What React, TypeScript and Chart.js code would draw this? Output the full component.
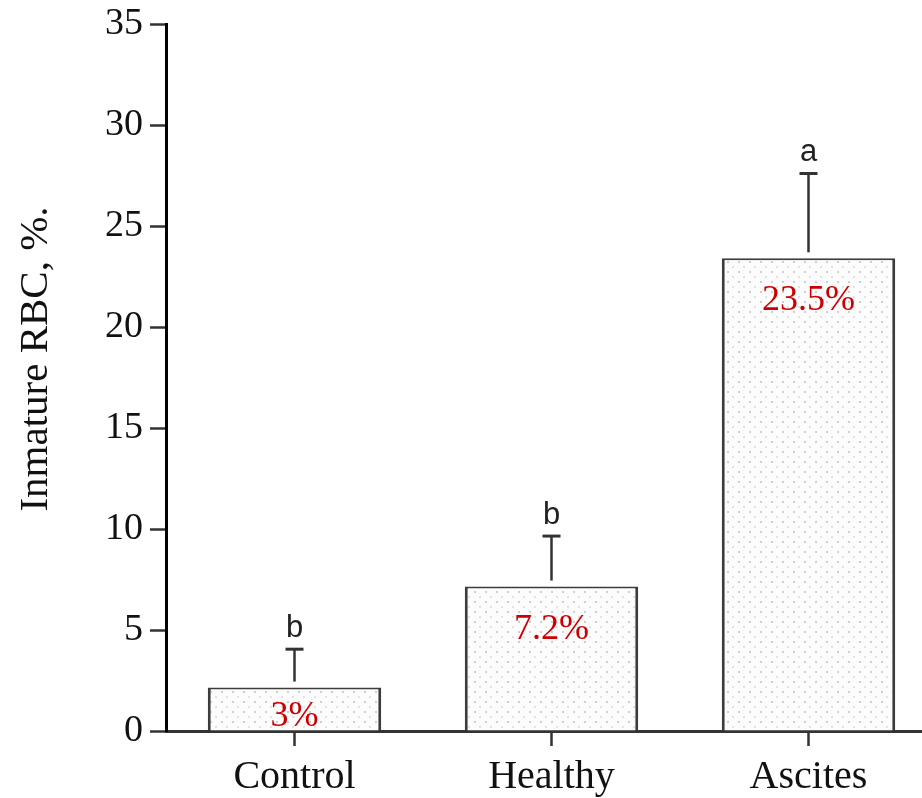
import React, { useEffect, useRef } from "react";
import { Chart, registerables } from "chart.js";

Chart.register(...registerables);

const categories = ["Control", "Healthy", "Ascites"];
const values = [2.15, 7.15, 23.4];
const errorTop = [4.05, 9.65, 27.6];
const valueLabels = ["3%", "7.2%", "23.5%"];
const groupLetters = ["b", "b", "a"];
const yMin = 0;
const yMax = 35;
const yStep = 5;
const yTitle = "Inmature RBC, %.";

function makePattern(): CanvasPattern | string {
  const c = document.createElement("canvas");
  c.width = 11;
  c.height = 10;
  const g = c.getContext("2d");
  if (!g) return "#f6f6f6";
  g.fillStyle = "#fcfcfc";
  g.fillRect(0, 0, 11, 10);
  g.fillStyle = "#cfcfcf";
  g.fillRect(1, 1, 2, 2);
  g.fillStyle = "#e2e2e2";
  g.fillRect(6, 6, 2, 2);
  const p = g.createPattern(c, "repeat");
  return p || "#f6f6f6";
}

const annotate = {
  id: "annotate",
  afterDatasetsDraw(chart: any) {
    const ctx = chart.ctx;
    const meta = chart.getDatasetMeta(0);
    const ys = chart.scales.y;
    ctx.save();
    meta.data.forEach((bar: any, i: number) => {
      const x = bar.x;
      const top = bar.y;
      const bottom = bar.base;
      const capY = ys.getPixelForValue(errorTop[i]);
      ctx.strokeStyle = "#333";
      ctx.lineWidth = 2.5;
      ctx.beginPath();
      ctx.moveTo(x, top - 6);
      ctx.lineTo(x, capY);
      ctx.stroke();
      ctx.lineWidth = 3;
      ctx.beginPath();
      ctx.moveTo(x - 9, capY);
      ctx.lineTo(x + 9, capY);
      ctx.stroke();
      ctx.fillStyle = "#222";
      ctx.font = "31px 'Liberation Sans', Arial, sans-serif";
      ctx.textAlign = "center";
      ctx.textBaseline = "alphabetic";
      ctx.fillText(groupLetters[i], x, capY - 12);
      ctx.fillStyle = "#cc0000";
      ctx.font = "36px 'Liberation Serif', 'Times New Roman', serif";
      ctx.fillText(valueLabels[i], x, Math.min(top + 52, bottom - 5));
    });
    // y axis title
    ctx.translate(36, 359);
    ctx.rotate(-Math.PI / 2);
    ctx.fillStyle = "#111";
    ctx.font = "41px 'Liberation Serif', 'Times New Roman', serif";
    ctx.textAlign = "center";
    ctx.textBaseline = "middle";
    ctx.fillText(yTitle, 0, 0);
    ctx.restore();
  },
};

export default function App() {
  const ref = useRef<HTMLCanvasElement | null>(null);
  useEffect(() => {
    if (!ref.current) return;
    const chart = new Chart(ref.current, {
      type: "bar",
      data: {
        labels: categories,
        datasets: [
          {
            data: values,
            backgroundColor: makePattern() as any,
            borderColor: "#3c3c3c",
            borderWidth: { top: 2, left: 3, right: 3, bottom: 0 } as any,
            borderSkipped: false,
            barPercentage: 0.675,
            categoryPercentage: 1,
          },
        ],
      },
      options: {
        animation: false,
        responsive: true,
        maintainAspectRatio: false,
        layout: { padding: { top: 24, right: 3, left: 0, bottom: 0 } },
        plugins: { legend: { display: false }, tooltip: { enabled: false } },
        scales: {
          x: {
            offset: true,
            grid: {
              display: true,
              offset: false,
              drawOnChartArea: false,
              drawTicks: true,
              tickLength: 15,
              tickWidth: 2.5,
              tickColor: "#333",
            },
            border: { display: true, color: "#333", width: 3 },
            ticks: {
              color: "#111",
              padding: 7,
              font: { family: "'Liberation Serif', 'Times New Roman', serif", size: 40 },
            },
            afterFit(scale: any) {
              scale.height = 67;
            },
          },
          y: {
            min: yMin,
            max: yMax,
            grid: {
              display: true,
              drawOnChartArea: false,
              drawTicks: true,
              tickLength: 16,
              tickWidth: 2.5,
              tickColor: "#333",
            },
            border: { display: true, color: "#000", width: 3 },
            ticks: {
              stepSize: yStep,
              color: "#111",
              padding: 7,
              font: { family: "'Liberation Serif', 'Times New Roman', serif", size: 38, lineHeight: 0.8 },
            },
            afterFit(scale: any) {
              scale.width = 166;
            },
          },
        },
      },
      plugins: [annotate],
    });
    return () => chart.destroy();
  }, []);
  return (
    <div
      style={{
        position: "fixed",
        left: 0,
        top: 0,
        width: 940,
        height: 798,
        background: "#fff",
      }}
    >
      <canvas ref={ref} />
    </div>
  );
}
